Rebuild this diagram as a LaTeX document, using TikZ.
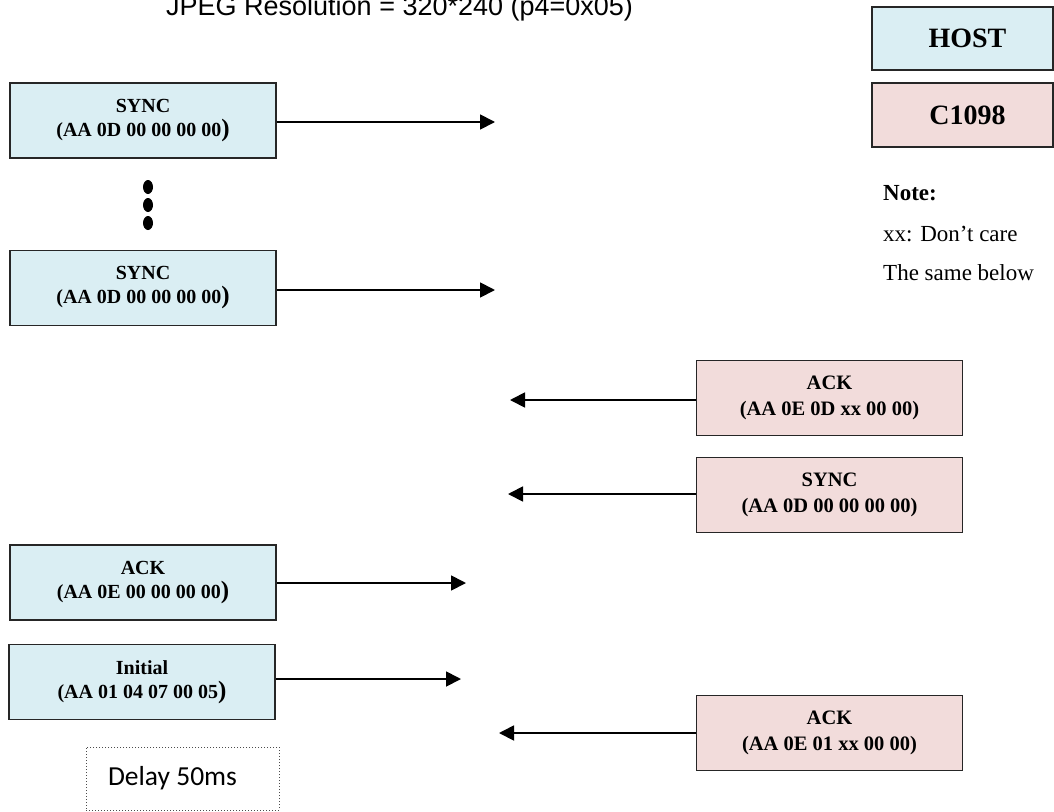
\documentclass[tikz,border=0pt]{standalone}
\usepackage{fontspec}
\setmainfont{Liberation Serif}
\newfontfamily\arialf{Liberation Sans}
\newfontfamily\califont{Carlito}
\usetikzlibrary{arrows.meta}
\definecolor{hostblue}{HTML}{DAEEF3}
\definecolor{devpink}{HTML}{F2DCDB}
\newcommand{\bigpar}{{\fontsize{25}{24}\selectfont )}}
\begin{document}
\begin{tikzpicture}[x=1pt,y=-1pt,
  hostbox/.style={draw=black!85, line width=1.6pt, fill=hostblue, minimum width=266pt, minimum height=75pt, align=center, inner sep=0pt, font=\fontsize{20}{24}\selectfont\bfseries},
  devbox/.style={hostbox, fill=devpink, font=\fontsize{20.5}{26}\selectfont\bfseries},
  legendbox/.style={draw=black!85, line width=1.6pt, minimum width=181pt, minimum height=63pt, inner sep=0pt, font=\fontsize{28}{32}\selectfont\bfseries},
  msg/.style={line width=1.8pt, -{Triangle[length=15pt,width=15pt]}},
  notetext/.style={anchor=base west, inner sep=0pt, font=\fontsize{23}{26}\selectfont}]
\useasboundingbox (0,0) rectangle (1054,811);
\clip (0,0) rectangle (1054,811);

\node[anchor=base west, inner sep=0pt, font=\arialf\fontsize{27}{30}\selectfont] (title) at (166,15) {JPEG Resolution = 320*240 (p4=0x05)};

% legend
\node[legendbox, fill=hostblue] (lhost) at (962.5,38.5) {\hspace*{10pt}HOST};
\node[legendbox, fill=devpink, minimum height=64pt] (ldev) at (962.5,115) {\hspace*{10pt}C1098};
\node[notetext, font=\fontsize{23}{26}\selectfont\bfseries] (n1) at (883,200) {Note:};
\node[notetext] (n2) at (883,241) {xx: Don’t care};
\node[notetext] (n3) at (883,280) {The same below};

% host boxes
\node[hostbox] (s1) at (143,120.5) {SYNC\\(AA 0D 00 00 00 00\bigpar};
\node[hostbox] (s2) at (143,288) {SYNC\\(AA 0D 00 00 00 00\bigpar};
\node[hostbox] (ackh) at (143,582.5) {ACK\\(AA 0E 00 00 00 00\bigpar};
\node[hostbox] (init) at (142,682) {Initial\\(AA 01 04 07 00 05\bigpar};

% device boxes
\node[devbox] (ack1) at (829.5,398) {ACK\\(AA 0E 0D xx 00 00)};
\node[devbox] (sync) at (829.5,495) {SYNC\\(AA 0D 00 00 00 00)};
\node[devbox] (ack2) at (829.5,733) {ACK\\(AA 0E 01 xx 00 00)};

% dots
\fill (148,187) ellipse [x radius=5pt, y radius=7pt];
\fill (148,205) ellipse [x radius=5pt, y radius=7pt];
\fill (148,223) ellipse [x radius=5pt, y radius=7pt];

% delay
\node[draw=black!70, dotted, line width=1pt, minimum width=193pt, minimum height=63pt, font=\califont\fontsize{27.5}{30}\selectfont] (delay) at (182.5,778.5) {Delay 50ms\hspace*{20pt}};

% arrow tips
\coordinate (t1) at (495,122);
\coordinate (t2) at (495,290);
\coordinate (t3) at (510,400);
\coordinate (t4) at (508,494);
\coordinate (t5) at (466,583);
\coordinate (t6) at (461,679);
\coordinate (t7) at (499,733);

\draw[msg] (s1.east |- t1) -- (t1);
\draw[msg] (s2.east |- t2) -- (t2);
\draw[msg] (ack1.west |- t3) -- (t3);
\draw[msg] (sync.west |- t4) -- (t4);
\draw[msg] (ackh.east |- t5) -- (t5);
\draw[msg] (init.east |- t6) -- (t6);
\draw[msg] (ack2.west |- t7) -- (t7);
\end{tikzpicture}
\end{document}
